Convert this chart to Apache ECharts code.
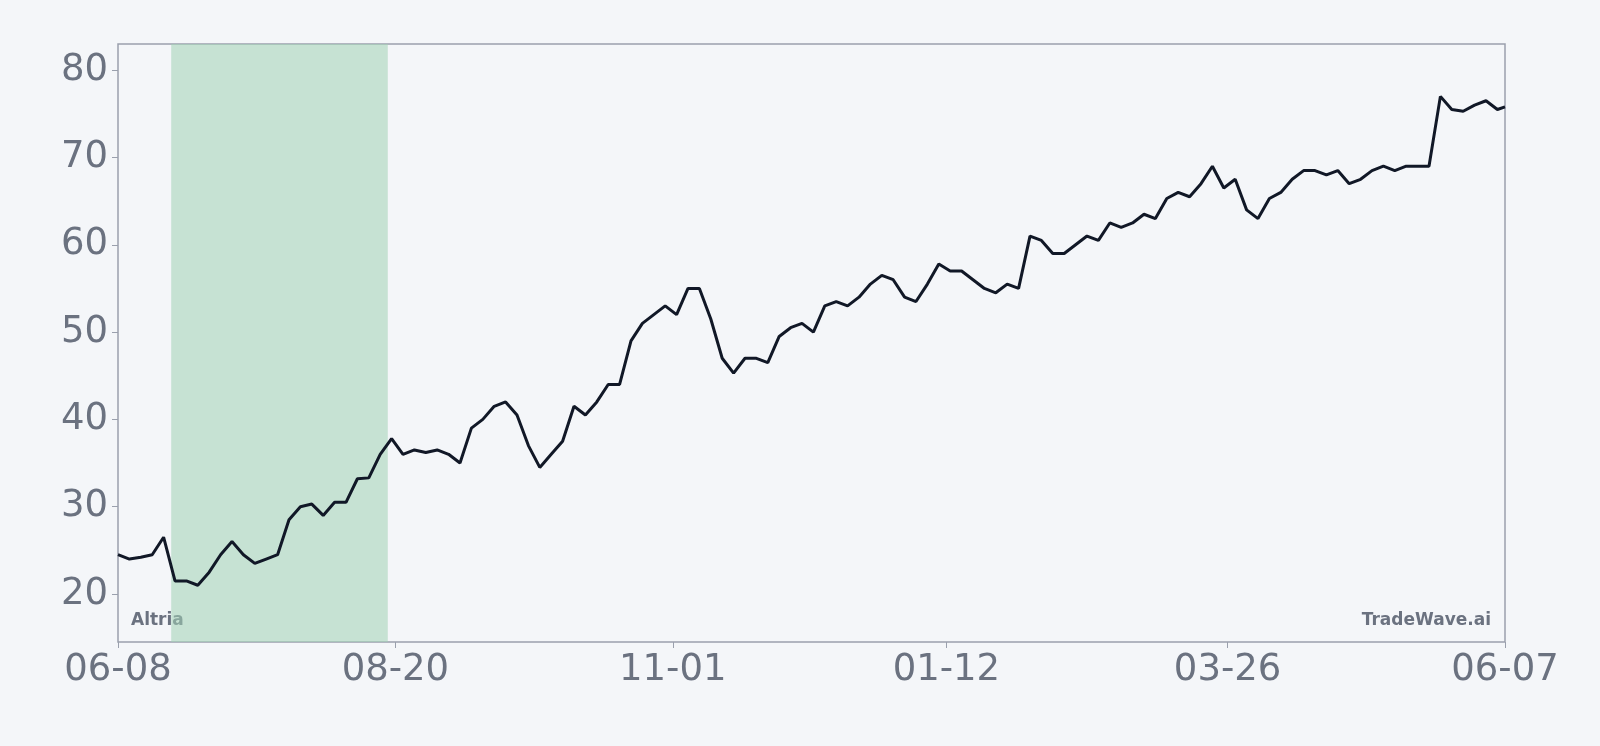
<!DOCTYPE html>
<html>
<head>
<meta charset="utf-8">
<script src="https://cdn.jsdelivr.net/npm/echarts@6/dist/echarts.min.js"></script>
<style>html,body{margin:0;padding:0;background:#f4f6f9}#container{width:1600px;height:746px}</style>
</head>
<body>
<div id="container"></div>
<script>
var dom = document.getElementById('container');
var myChart = echarts.init(dom);

// one reading every 3 days, day 0 = 06-08, last day = 365 (06-07)
let lastDay = 365
let prices = [24.5, 24.0, 24.2, 24.5, 26.5, 21.5, 21.5, 21, 22.5, 24.5,
    26, 24.5, 23.5, 24, 24.5, 28.5, 30, 30.3, 29, 30.5,
    30.5, 33.2, 33.3, 36, 37.8, 36, 36.5, 36.2, 36.5, 36,
    35, 39, 40, 41.5, 42, 40.5, 37, 34.5, 36, 37.5,
    41.5, 40.5, 42, 44, 44, 49, 51, 52, 53, 52,
    55, 55, 51.5, 47, 45.3, 47, 47, 46.5, 49.5, 50.5,
    51, 50, 53, 53.5, 53, 54, 55.5, 56.5, 56, 54,
    53.5, 55.5, 57.8, 57, 57, 56, 55, 54.5, 55.5, 55,
    61, 60.5, 59, 59, 60, 61, 60.5, 62.5, 62, 62.5,
    63.5, 63, 65.3, 66, 65.5, 67, 69, 66.5, 67.5, 64,
    63, 65.3, 66, 67.5, 68.5, 68.5, 68, 68.5, 67, 67.5,
    68.5, 69, 68.5, 69, 69, 69, 77, 75.5, 75.3, 76,
    76.5, 75.5, 75.8]
let xTickDays = [0, 73, 146, 218, 292, 365]
let xTickLabels = ['06-08', '08-20', '11-01', '01-12', '03-26', '06-07']
let yTicks = [20, 30, 40, 50, 60, 70, 80]
let shadeDays = [14, 71]

let seriesData = prices.map((v, i) => [Math.min(i * 3, lastDay), v])

option = {
    backgroundColor: '#f4f6f9',
    animation: false,
    grid: {
        left: 118, right: 95, top: 44, bottom: 104,
        show: true, borderColor: '#9aa0ad', borderWidth: 1.5, backgroundColor: 'transparent'
    },
    xAxis: {
        type: 'value',
        min: 0, max: lastDay,
        axisLine: { show: false },
        splitLine: { show: false },
        axisTick: { show: true, customValues: xTickDays, length: 6, lineStyle: { color: '#9aa0ad' } },
        axisLabel: {
            customValues: xTickDays,
            color: '#6b7280', fontSize: 37, margin: 10, fontFamily: 'DejaVu Sans',
            formatter: function (val) {
                let i = xTickDays.indexOf(Math.round(val))
                return i >= 0 ? xTickLabels[i] : ''
            }
        }
    },
    yAxis: {
        type: 'value',
        min: 14.5, max: 83,
        axisLine: { show: false },
        splitLine: { show: false },
        axisTick: { show: true, customValues: yTicks, length: 6, lineStyle: { color: '#9aa0ad' } },
        axisLabel: { customValues: yTicks, color: '#6b7280', fontSize: 37, margin: 10, fontFamily: 'DejaVu Sans' }
    },
    graphic: [
        { type: 'text', left: 131, top: 612, style: { text: 'Altria', fill: '#6b7280', font: 'bold 17px DejaVu Sans' } },
        { type: 'text', right: 109, top: 612, style: { text: 'TradeWave.ai', fill: '#6b7280', font: 'bold 17px DejaVu Sans' } }
    ],
    series: [{
        type: 'line',
        data: seriesData,
        showSymbol: false,
        lineStyle: { color: '#111827', width: 3 },
        markArea: {
            silent: true,
            itemStyle: { color: 'rgba(160,210,180,0.55)' },
            data: [[{ xAxis: shadeDays[0] }, { xAxis: shadeDays[1] }]]
        }
    }]
};
myChart.setOption(option);

window.addEventListener('resize', function () {
    myChart.resize();
});
</script>
</body>
</html>
